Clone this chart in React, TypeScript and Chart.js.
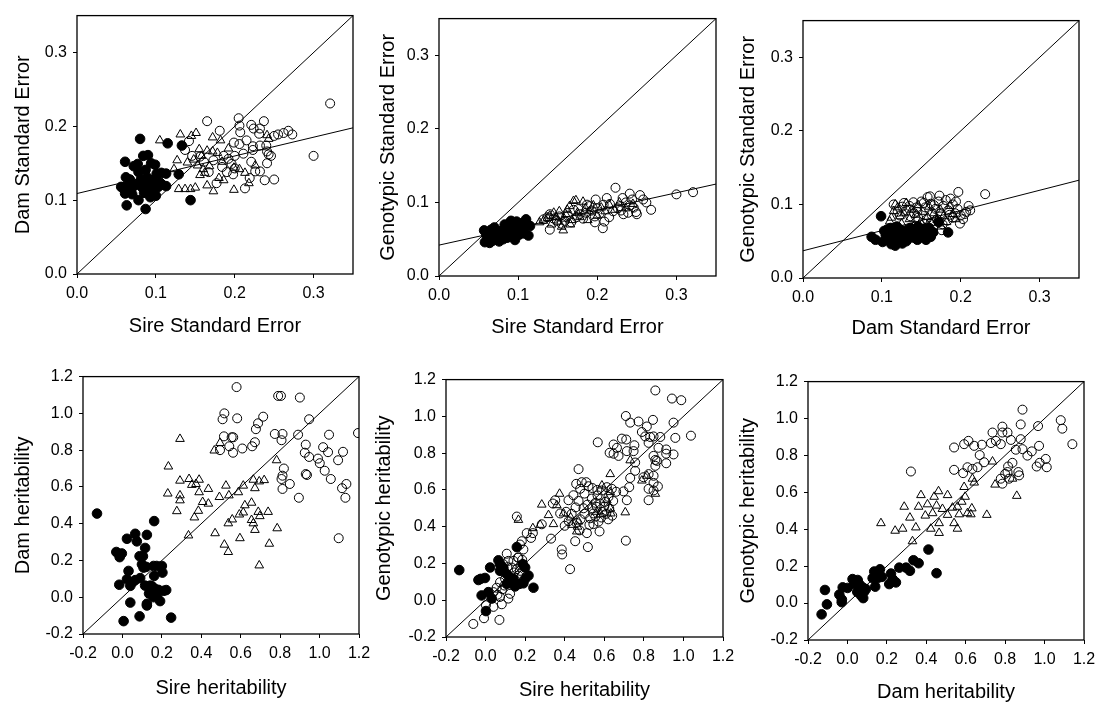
import React, { useEffect, useRef } from "react";
import { Chart, registerables } from "chart.js";
Chart.register(...registerables);

type P = [number, number];

const FONT = "'Liberation Sans', Arial, sans-serif";
const TICK_SIZE = 16;
const TITLE_SIZE = 20;

const seTicks = [0, 0.1, 0.2, 0.3];
const seRange: P = [0, 0.35];
const hTicks = [-0.2, 0, 0.2, 0.4, 0.6, 0.8, 1.0, 1.2];
const hRange: P = [-0.2, 1.2];

// ---------- Panel 1: Sire SE vs Dam SE ----------
const p1Filled: P[] = [
  [0.080,0.183],[0.115,0.177],[0.133,0.174],[0.061,0.152],[0.084,0.160],[0.090,0.161],[0.072,0.146],[0.077,0.149],[0.094,0.150],[0.099,0.148],
  [0.062,0.131],[0.078,0.138],[0.087,0.141],[0.101,0.136],[0.107,0.137],[0.113,0.136],[0.129,0.135],[0.056,0.118],[0.060,0.114],[0.065,0.121],
  [0.068,0.112],[0.072,0.119],[0.077,0.122],[0.082,0.118],[0.087,0.125],[0.090,0.114],[0.094,0.120],[0.097,0.111],[0.100,0.106],[0.103,0.118],
  [0.108,0.121],[0.113,0.119],[0.061,0.109],[0.070,0.108],[0.085,0.110],[0.093,0.104],[0.063,0.093],[0.078,0.100],[0.087,0.088],[0.144,0.100],
  [0.089,0.131],[0.081,0.128],[0.096,0.127],[0.105,0.124],[0.067,0.128]
];
const p1Tri: P[] = [
  [0.105,0.181],[0.131,0.189],[0.145,0.187],[0.151,0.191],[0.172,0.185],[0.182,0.181],[0.123,0.142],[0.127,0.154],[0.101,0.134],[0.129,0.115],
  [0.137,0.115],[0.144,0.115],[0.150,0.117],[0.165,0.120],[0.173,0.112],[0.199,0.114],[0.218,0.123],[0.213,0.137],[0.199,0.144],[0.192,0.170],
  [0.241,0.188],[0.243,0.183],[0.155,0.169],[0.158,0.160],[0.165,0.167],[0.172,0.166],[0.178,0.164],[0.184,0.152],[0.153,0.147],[0.160,0.142],
  [0.168,0.146],[0.156,0.134],[0.148,0.155],[0.140,0.151],[0.180,0.130],[0.186,0.127],[0.206,0.142],[0.226,0.147],[0.162,0.137]
];
const p1Circ: P[] = [
  [0.165,0.207],[0.205,0.211],[0.206,0.201],[0.221,0.202],[0.224,0.197],[0.232,0.197],[0.237,0.207],[0.207,0.192],[0.231,0.190],[0.262,0.191],
  [0.273,0.189],[0.268,0.194],[0.250,0.187],[0.255,0.189],[0.321,0.231],[0.300,0.160],[0.137,0.168],[0.142,0.180],[0.181,0.194],[0.199,0.178],
  [0.206,0.176],[0.215,0.181],[0.223,0.173],[0.232,0.174],[0.240,0.174],[0.241,0.166],[0.243,0.162],[0.246,0.160],[0.223,0.168],[0.200,0.160],
  [0.192,0.156],[0.173,0.154],[0.156,0.159],[0.167,0.138],[0.177,0.123],[0.190,0.138],[0.198,0.135],[0.200,0.143],[0.213,0.116],[0.219,0.130],
  [0.226,0.139],[0.232,0.139],[0.238,0.127],[0.250,0.128],[0.241,0.150],[0.221,0.152],[0.186,0.160],[0.211,0.163],[0.196,0.149],[0.146,0.160],
  [0.161,0.152],[0.184,0.145]
];
const p1Reg: P[] = [[0, 0.109], [0.35, 0.198]];

// ---------- Panel 2: Sire SE vs Genotypic SE ----------
const p2Filled: P[] = [
  [0.057,0.062],[0.058,0.046],[0.060,0.055],[0.062,0.050],[0.063,0.059],[0.064,0.045],[0.066,0.063],[0.067,0.053],[0.068,0.048],[0.069,0.058],
  [0.070,0.066],[0.071,0.062],[0.072,0.051],[0.073,0.056],[0.075,0.060],[0.076,0.047],[0.077,0.054],[0.079,0.058],[0.080,0.062],[0.081,0.050],
  [0.082,0.055],[0.084,0.064],[0.085,0.059],[0.086,0.052],[0.087,0.068],[0.088,0.056],[0.089,0.072],[0.090,0.062],[0.091,0.075],[0.092,0.066],
  [0.093,0.058],[0.094,0.053],[0.095,0.070],[0.096,0.049],[0.097,0.064],[0.099,0.060],[0.100,0.067],[0.101,0.056],[0.103,0.062],[0.105,0.072],
  [0.107,0.058],[0.108,0.066],[0.110,0.077],[0.112,0.070],[0.113,0.055],[0.115,0.068],[0.098,0.074],[0.083,0.070]
];
const p2Tri: P[] = [
  [0.127,0.073],[0.132,0.075],[0.137,0.079],[0.140,0.082],[0.145,0.086],[0.148,0.080],[0.150,0.074],[0.152,0.088],[0.155,0.067],[0.157,0.062],
  [0.158,0.078],[0.160,0.084],[0.162,0.090],[0.165,0.095],[0.166,0.070],[0.168,0.076],[0.170,0.102],[0.173,0.103],[0.175,0.086],[0.178,0.080],
  [0.182,0.101],[0.185,0.092],[0.188,0.076],[0.190,0.088],[0.195,0.096],[0.200,0.082],[0.205,0.093],[0.210,0.088],[0.215,0.097],[0.222,0.090],
  [0.228,0.100],[0.236,0.092],[0.245,0.098],[0.107,0.075],[0.142,0.070]
];
const p2Circ: P[] = [
  [0.223,0.120],[0.300,0.111],[0.321,0.114],[0.268,0.090],[0.241,0.112],[0.254,0.110],[0.232,0.106],[0.198,0.104],[0.140,0.063],[0.207,0.065],
  [0.209,0.074],[0.197,0.073],[0.216,0.098],[0.229,0.095],[0.246,0.093],[0.239,0.086],[0.250,0.084],[0.233,0.084],[0.203,0.085],[0.193,0.089],
  [0.187,0.097],[0.178,0.084],[0.182,0.078],[0.159,0.075],[0.149,0.075],[0.140,0.084],[0.132,0.077],[0.220,0.088],[0.258,0.104],[0.212,0.106],
  [0.190,0.095],[0.170,0.090],[0.163,0.082],[0.152,0.081],[0.145,0.078],[0.236,0.100],[0.244,0.104],[0.226,0.092],[0.249,0.087],[0.215,0.080],
  [0.200,0.092],[0.186,0.086],[0.174,0.080],[0.167,0.073],[0.155,0.071],[0.208,0.097],[0.241,0.096],[0.230,0.089],[0.197,0.081],[0.262,0.100],
  [0.137,0.080],[0.176,0.091]
];
const p2Reg: P[] = [[0, 0.042], [0.35, 0.125]];

// ---------- Panel 3: Dam SE vs Genotypic SE ----------
const p3Filled: P[] = [
  [0.099,0.084],[0.087,0.056],[0.092,0.052],[0.101,0.049],[0.105,0.058],[0.107,0.066],[0.108,0.055],[0.110,0.062],[0.112,0.046],[0.114,0.053],
  [0.115,0.067],[0.117,0.044],[0.118,0.058],[0.120,0.062],[0.121,0.050],[0.123,0.066],[0.125,0.055],[0.126,0.047],[0.128,0.060],[0.130,0.064],
  [0.132,0.052],[0.134,0.058],[0.136,0.068],[0.138,0.062],[0.140,0.055],[0.142,0.066],[0.144,0.059],[0.146,0.070],[0.148,0.055],[0.150,0.063],
  [0.152,0.058],[0.154,0.067],[0.156,0.052],[0.158,0.060],[0.160,0.068],[0.162,0.056],[0.165,0.062],[0.172,0.076],[0.184,0.062],[0.111,0.068],
  [0.103,0.064],[0.119,0.070],[0.131,0.050],[0.145,0.052]
];
const p3Tri: P[] = [
  [0.112,0.082],[0.117,0.100],[0.110,0.077],[0.115,0.091],[0.120,0.096],[0.125,0.074],[0.128,0.088],[0.131,0.102],[0.135,0.080],[0.138,0.093],
  [0.141,0.071],[0.143,0.086],[0.146,0.099],[0.149,0.076],[0.152,0.090],[0.155,0.068],[0.158,0.083],[0.160,0.097],[0.163,0.075],[0.166,0.088],
  [0.170,0.079],[0.174,0.093],[0.178,0.084],[0.182,0.076],[0.186,0.098],[0.190,0.087],[0.194,0.080],[0.133,0.066],[0.147,0.065],[0.123,0.084],
  [0.158,0.072],[0.175,0.070]
];
const p3Circ: P[] = [
  [0.231,0.114],[0.197,0.117],[0.161,0.111],[0.210,0.098],[0.165,0.062],[0.176,0.065],[0.123,0.085],[0.115,0.100],[0.128,0.102],[0.135,0.098],
  [0.140,0.103],[0.145,0.090],[0.150,0.104],[0.155,0.096],[0.158,0.110],[0.162,0.101],[0.168,0.094],[0.172,0.104],[0.175,0.088],[0.178,0.098],
  [0.181,0.106],[0.184,0.092],[0.187,0.108],[0.190,0.100],[0.193,0.088],[0.196,0.094],[0.200,0.085],[0.203,0.080],[0.205,0.087],[0.199,0.074],
  [0.190,0.082],[0.183,0.078],[0.177,0.073],[0.170,0.080],[0.163,0.086],[0.157,0.080],[0.152,0.075],[0.146,0.082],[0.141,0.088],[0.136,0.084],
  [0.131,0.092],[0.126,0.097],[0.120,0.090],[0.166,0.099],[0.186,0.086],[0.194,0.104],[0.207,0.090],[0.212,0.092],[0.173,0.112],[0.153,0.102],
  [0.144,0.096]
];
const p3Reg: P[] = [[0, 0.037], [0.35, 0.133]];

const seDiag: P[] = [[0, 0], [0.35, 0.35]];

// ---------- Panel 4: Sire h vs Dam h ----------
const p4Filled: P[] = [
  [-0.129,0.455],[0.161,0.414],[0.065,0.345],[0.023,0.318],[0.124,0.339],[0.073,0.304],[0.115,0.268],[0.104,0.223],[0.087,0.223],[0.099,0.179],
  [0.107,0.161],[0.120,0.165],[-0.031,0.246],[-0.003,0.238],[-0.014,0.218],[0.031,0.143],[-0.016,0.068],[0.023,0.098],[0.040,0.062],[0.065,0.093],
  [0.090,0.104],[0.050,0.080],[0.158,0.170],[0.174,0.170],[0.200,0.170],[0.161,0.116],[0.203,0.134],[0.115,0.063],[0.141,0.063],[0.166,0.045],
  [0.183,0.040],[0.154,0.018],[0.210,0.035],[0.222,0.039],[0.124,-0.036],[0.124,-0.045],[0.191,-0.021],[0.040,-0.029],[0.087,-0.104],[0.006,-0.130],
  [0.247,-0.111],[0.158,0.000],[0.135,0.020],[0.150,0.060],[0.175,0.010]
];
const p4Tri: P[] = [
  [0.292,0.861],[0.233,0.711],[0.230,0.564],[0.292,0.634],[0.292,0.554],[0.292,0.527],[0.276,0.468],[0.338,0.643],[0.352,0.611],[0.373,0.616],
  [0.389,0.639],[0.389,0.571],[0.407,0.518],[0.436,0.509],[0.436,0.589],[0.385,0.470],[0.365,0.434],[0.335,0.336],[0.466,0.798],[0.495,0.839],
  [0.470,0.348],[0.492,0.545],[0.540,0.554],[0.525,0.607],[0.517,0.286],[0.537,0.246],[0.537,0.402],[0.557,0.423],[0.588,0.571],[0.613,0.607],
  [0.596,0.321],[0.593,0.450],[0.613,0.461],[0.621,0.500],[0.655,0.514],[0.655,0.420],[0.664,0.402],[0.672,0.366],[0.672,0.593],[0.664,0.639],
  [0.689,0.464],[0.697,0.441],[0.694,0.630],[0.719,0.637],[0.739,0.464],[0.745,0.291],[0.694,0.173],[0.782,0.745],[0.785,0.375]
];
const p4Circ: P[] = [
  [0.579,1.143],[0.790,1.095],[0.804,1.095],[0.900,1.086],[0.517,1.000],[0.508,0.968],[0.582,0.973],[0.714,0.982],[0.688,0.946],[0.677,0.914],
  [0.947,0.968],[0.515,0.875],[0.554,0.870],[0.562,0.870],[0.542,0.821],[0.495,0.800],[0.561,0.786],[0.608,0.809],[0.658,0.821],[0.672,0.843],
  [0.773,0.888],[0.812,0.888],[0.807,0.854],[0.891,0.884],[1.048,0.884],[0.930,0.830],[1.018,0.816],[1.043,0.789],[1.119,0.791],[0.925,0.786],
  [0.947,0.763],[0.992,0.754],[1.001,0.729],[1.094,0.745],[1.195,0.893],[0.819,0.700],[0.812,0.661],[0.807,0.643],[0.812,0.589],[0.849,0.616],
  [0.930,0.670],[0.936,0.665],[1.026,0.688],[1.057,0.643],[1.114,0.593],[1.136,0.616],[1.131,0.541],[0.895,0.541],[1.097,0.321]
];

// ---------- Panel 5: Sire h vs Genotypic h ----------
const p5Filled: P[] = [
  [-0.133,0.164],[-0.036,0.110],[-0.003,0.121],[-0.025,0.116],[-0.020,0.026],[0.002,-0.059],[0.014,0.044],[0.031,0.009],[0.023,0.178],[0.065,0.217],
  [0.073,0.196],[0.090,0.175],[0.107,0.142],[0.124,0.125],[0.141,0.116],[0.158,0.289],[0.188,0.196],[0.200,0.178],[0.217,0.134],[0.200,0.116],
  [0.171,0.089],[0.149,0.075],[0.132,0.098],[0.191,0.092],[0.242,0.068],[0.107,0.089],[0.080,0.185],[0.073,0.160]
];
const p5Tri: P[] = [
  [0.166,0.437],[0.239,0.392],[0.284,0.520],[0.276,0.410],[0.318,0.463],[0.343,0.414],[0.360,0.517],[0.374,0.579],[0.394,0.472],[0.461,0.374],
  [0.470,0.428],[0.436,0.410],[0.430,0.450],[0.562,0.481],[0.579,0.467],[0.613,0.544],[0.630,0.588],[0.633,0.472],[0.630,0.499],[0.588,0.624],
  [0.630,0.686],[0.731,0.761],[0.706,0.478],[0.790,0.651],[0.815,0.677],[0.858,0.579],[0.465,0.400]
];
const p5Circ: P[] = [
  [0.858,1.141],[0.942,1.097],[0.989,1.088],[0.709,1.002],[0.731,0.966],[0.773,0.972],[0.846,0.981],[0.815,0.945],[0.790,0.915],[0.950,0.966],
  [0.807,0.891],[0.832,0.888],[0.849,0.891],[0.883,0.888],[1.038,0.895],[0.959,0.883],[0.824,0.856],[0.874,0.829],[0.849,0.785],[0.858,0.763],
  [0.858,0.731],[0.866,0.758],[0.913,0.820],[0.913,0.797],[0.950,0.793],[0.913,0.745],[0.689,0.879],[0.711,0.874],[0.647,0.847],[0.664,0.829],
  [0.627,0.802],[0.647,0.797],[0.672,0.785],[0.714,0.811],[0.748,0.811],[0.752,0.843],[0.567,0.859],[0.756,0.749],[0.756,0.704],[0.731,0.665],
  [0.697,0.592],[0.714,0.544],[0.726,0.615],[0.824,0.544],[0.824,0.606],[0.849,0.597],[0.871,0.619],[0.849,0.638],[0.798,0.669],[0.824,0.686],
  [0.849,0.677],
  [0.470,0.713],[0.458,0.633],[0.486,0.642],[0.509,0.642],[0.478,0.606],[0.444,0.571],[0.419,0.544],[0.407,0.481],[0.377,0.472],[0.385,0.276],
  [0.387,0.249],[0.427,0.169],[0.453,0.321],[0.517,0.289],[0.512,0.365],[0.576,0.374],[0.709,0.324],[0.529,0.446],[0.545,0.472],[0.562,0.508],
  [0.579,0.526],[0.604,0.535],[0.621,0.562],[0.638,0.606],[0.613,0.615],[0.588,0.597],[0.566,0.570],[0.537,0.553],[0.525,0.410],[0.545,0.414],
  [0.571,0.428],[0.352,0.544],[0.340,0.526],[0.331,0.335],[0.284,0.413],[0.239,0.365],[0.208,0.365],[0.230,0.339],[0.158,0.455],[0.183,0.321],
  [0.174,0.303],[0.191,0.276],[0.166,0.232],
  [0.500,0.580],[0.515,0.520],[0.495,0.500],[0.470,0.540],[0.455,0.505],[0.435,0.470],[0.420,0.430],[0.400,0.405],[0.480,0.440],[0.500,0.470],
  [0.555,0.455],[0.590,0.480],[0.610,0.470],[0.625,0.500],[0.645,0.540],[0.660,0.590],[0.600,0.510],[0.565,0.600],[0.540,0.610],[0.520,0.620],
  [0.555,0.530],[0.585,0.450],[0.620,0.440],[0.640,0.460],[0.475,0.380],[0.460,0.420],[0.540,0.500],
  [-0.062,-0.129],[-0.008,-0.098],[0.070,-0.107],[0.002,-0.027],[0.040,-0.036],[0.082,-0.022],[0.073,0.018],[0.115,0.009],[0.124,0.035],[0.056,0.068],
  [0.040,0.044],[0.073,0.098],[0.099,0.116],[0.107,0.253],[0.115,0.214],[0.141,0.214],[0.132,0.178],[0.158,0.169],[0.163,0.232],[0.174,0.160],
  [0.166,0.134],[0.144,0.151],[0.090,0.196],[0.100,0.150],[0.120,0.120],[0.085,0.060],[0.060,0.030],[0.095,0.080],[0.130,0.090],[0.110,0.180],
  [0.150,0.110],[0.180,0.190],[0.185,0.220]
];

// ---------- Panel 6: Dam h vs Genotypic h ----------
const p6Filled: P[] = [
  [-0.131,-0.061],[-0.114,0.071],[-0.104,-0.007],[-0.028,0.019],[-0.041,0.046],[-0.024,0.085],[-0.029,0.005],[0.001,0.082],[0.026,0.130],[0.035,0.103],
  [0.052,0.125],[0.060,0.103],[0.069,0.041],[0.060,0.068],[0.077,0.085],[0.094,0.076],[0.085,0.062],[0.080,0.027],[0.050,0.060],[0.128,0.135],
  [0.136,0.171],[0.141,0.089],[0.165,0.183],[0.153,0.135],[0.175,0.142],[0.212,0.103],[0.232,0.117],[0.246,0.112],[0.221,0.160],[0.263,0.192],
  [0.297,0.192],[0.317,0.175],[0.335,0.232],[0.361,0.216],[0.411,0.290],[0.452,0.162],[0.229,0.130]
];
const p6Tri: P[] = [
  [0.170,0.433],[0.242,0.392],[0.280,0.403],[0.288,0.522],[0.317,0.463],[0.330,0.335],[0.347,0.410],[0.361,0.522],[0.373,0.585],[0.395,0.474],
  [0.406,0.535],[0.423,0.403],[0.432,0.487],[0.440,0.576],[0.452,0.528],[0.462,0.606],[0.465,0.433],[0.465,0.380],[0.482,0.510],[0.508,0.585],
  [0.508,0.478],[0.533,0.517],[0.541,0.433],[0.558,0.403],[0.558,0.522],[0.567,0.481],[0.580,0.549],[0.592,0.629],[0.597,0.576],[0.609,0.487],
  [0.626,0.481],[0.631,0.513],[0.634,0.674],[0.643,0.653],[0.707,0.478],[0.736,0.767],[0.749,0.642],[0.837,0.674],[0.859,0.581]
];
const p6Circ: P[] = [
  [0.322,0.713],[0.541,0.843],[0.541,0.722],[0.592,0.861],[0.614,0.879],[0.643,0.852],[0.682,0.858],[0.587,0.704],[0.609,0.736],[0.634,0.727],
  [0.660,0.736],[0.671,0.802],[0.693,0.763],[0.736,0.924],[0.728,0.867],[0.753,0.879],[0.786,0.956],[0.786,0.924],[0.812,0.924],[0.829,0.884],
  [0.778,0.861],[0.778,0.674],[0.786,0.647],[0.812,0.710],[0.820,0.674],[0.837,0.760],[0.854,0.831],[0.867,0.710],[0.871,0.692],[0.879,0.888],
  [0.888,0.834],[0.879,0.968],[0.888,1.048],[0.913,0.799],[0.935,0.822],[0.972,0.852],[0.967,0.959],[1.011,0.736],[1.006,0.781],[0.975,0.760],
  [1.082,0.991],[1.090,0.945],[1.141,0.861],[0.800,0.700],[0.815,0.740],[0.960,0.740]
];

const hDiag: P[] = [[-0.2, -0.2], [1.2, 1.2]];

type Box = { L: number; T: number; R: number; B: number };
type PanelCfg = {
  filled: P[]; tri: P[]; circ: P[]; lines: P[][];
  xTitle: string; yTitle: string;
  ticks: number[]; range: P;
  box: Box; yTitleX: number; xTitleY: number;
};

const panels: PanelCfg[] = [
  { filled: p1Filled, tri: p1Tri, circ: p1Circ, lines: [seDiag, p1Reg], xTitle: "Sire Standard Error", yTitle: "Dam Standard Error",
    ticks: seTicks, range: seRange, box: { L: 77, T: 12, R: 353, B: 274 }, yTitleX: 23, xTitleY: 326 },
  { filled: p2Filled, tri: p2Tri, circ: p2Circ, lines: [seDiag, p2Reg], xTitle: "Sire Standard Error", yTitle: "Genotypic Standard Error",
    ticks: seTicks, range: seRange, box: { L: 439, T: 15, R: 716, B: 276 }, yTitleX: 388, xTitleY: 327 },
  { filled: p3Filled, tri: p3Tri, circ: p3Circ, lines: [seDiag, p3Reg], xTitle: "Dam Standard Error", yTitle: "Genotypic Standard Error",
    ticks: seTicks, range: seRange, box: { L: 803, T: 17, R: 1079, B: 278 }, yTitleX: 748, xTitleY: 328 },
  { filled: p4Filled, tri: p4Tri, circ: p4Circ, lines: [hDiag], xTitle: "Sire heritability", yTitle: "Dam heritability",
    ticks: hTicks, range: hRange, box: { L: 83, T: 373, R: 359, B: 634 }, yTitleX: 23, xTitleY: 688 },
  { filled: p5Filled, tri: p5Tri, circ: p5Circ, lines: [hDiag], xTitle: "Sire heritability", yTitle: "Genotypic heritability",
    ticks: hTicks, range: hRange, box: { L: 446, T: 376, R: 723, B: 637 }, yTitleX: 384, xTitleY: 690 },
  { filled: p6Filled, tri: p6Tri, circ: p6Circ, lines: [hDiag], xTitle: "Dam heritability", yTitle: "Genotypic heritability",
    ticks: hTicks, range: hRange, box: { L: 808, T: 378, R: 1084, B: 640 }, yTitleX: 748, xTitleY: 692 },
];

const framePlugin = {
  id: "frame",
  afterDatasetsDraw(chart: any) {
    const { ctx, chartArea } = chart;
    const { left, top, right, bottom } = chartArea;
    ctx.save();
    ctx.strokeStyle = "#000";
    ctx.lineWidth = 1.3;
    ctx.strokeRect(left, top, right - left, bottom - top);
    ctx.restore();
  },
};

const PAD_TOP = 12;
const PAD_RIGHT = 20;

function Panel({ cfg }: { cfg: PanelCfg }) {
  const ref = useRef<HTMLCanvasElement>(null);
  const half = (TITLE_SIZE * 1.2) / 2;
  const left = Math.round(cfg.yTitleX - half);
  const top = cfg.box.T - PAD_TOP;
  const bottom = Math.round(cfg.xTitleY + half);
  const width = cfg.box.R - left + PAD_RIGHT;
  const height = bottom - top;
  const yW = cfg.box.L - left;
  const xH = bottom - cfg.box.B;

  useEffect(() => {
    const toXY = (a: P[]) => a.map(([x, y]) => ({ x, y }));
    const axis = (title: string, fit: (s: any) => void, pad: number) => ({
      type: "linear" as const,
      min: cfg.range[0],
      max: cfg.range[1],
      afterBuildTicks: (s: any) => {
        s.ticks = cfg.ticks.map((v) => ({ value: v }));
      },
      afterFit: fit,
      grid: { display: true, drawOnChartArea: false, drawTicks: true, tickLength: 4, color: "#000", lineWidth: 1 },
      border: { display: false },
      ticks: {
        color: "#000",
        font: { family: FONT, size: TICK_SIZE },
        padding: pad,
        maxRotation: 0,
        autoSkip: false,
        callback: (v: any) => Number(v).toFixed(1),
      },
      title: { display: true, text: title, color: "#000", font: { family: FONT, size: TITLE_SIZE }, padding: 0 },
    });
    const chart = new Chart(ref.current as HTMLCanvasElement, {
      type: "scatter",
      data: {
        datasets: [
          { data: toXY(cfg.filled), pointStyle: "circle", pointRadius: 4.8, backgroundColor: "#000", borderColor: "#000", borderWidth: 1 },
          { data: toXY(cfg.tri), pointStyle: "triangle", pointRadius: 5, backgroundColor: "rgba(0,0,0,0)", borderColor: "#000", borderWidth: 1 },
          { data: toXY(cfg.circ), pointStyle: "circle", pointRadius: 4.5, backgroundColor: "rgba(0,0,0,0)", borderColor: "#000", borderWidth: 1 },
          ...cfg.lines.map((l) => ({
            data: toXY(l), showLine: true, pointRadius: 0, borderColor: "#000", borderWidth: 1, fill: false,
          })),
        ] as any,
      },
      options: {
        animation: false,
        responsive: false,
        maintainAspectRatio: false,
        devicePixelRatio: 1,
        layout: { padding: { top: PAD_TOP, right: PAD_RIGHT, left: 0, bottom: 0 } },
        plugins: { legend: { display: false }, tooltip: { enabled: false } },
        scales: {
          x: axis(cfg.xTitle, (s: any) => { s.height = xH; }, 6),
          y: axis(cfg.yTitle, (s: any) => { s.width = yW; }, 6),
        },
      } as any,
      plugins: [framePlugin],
    });
    return () => chart.destroy();
  }, []);

  return (
    <canvas
      ref={ref}
      width={width}
      height={height}
      style={{ position: "absolute", left, top, width, height }}
    />
  );
}

export default function App() {
  return (
    <div style={{ position: "absolute", left: 0, top: 0, width: 1096, height: 702, overflow: "hidden", background: "#fff" }}>
      {panels.map((p, i) => (
        <Panel key={i} cfg={p} />
      ))}
    </div>
  );
}
